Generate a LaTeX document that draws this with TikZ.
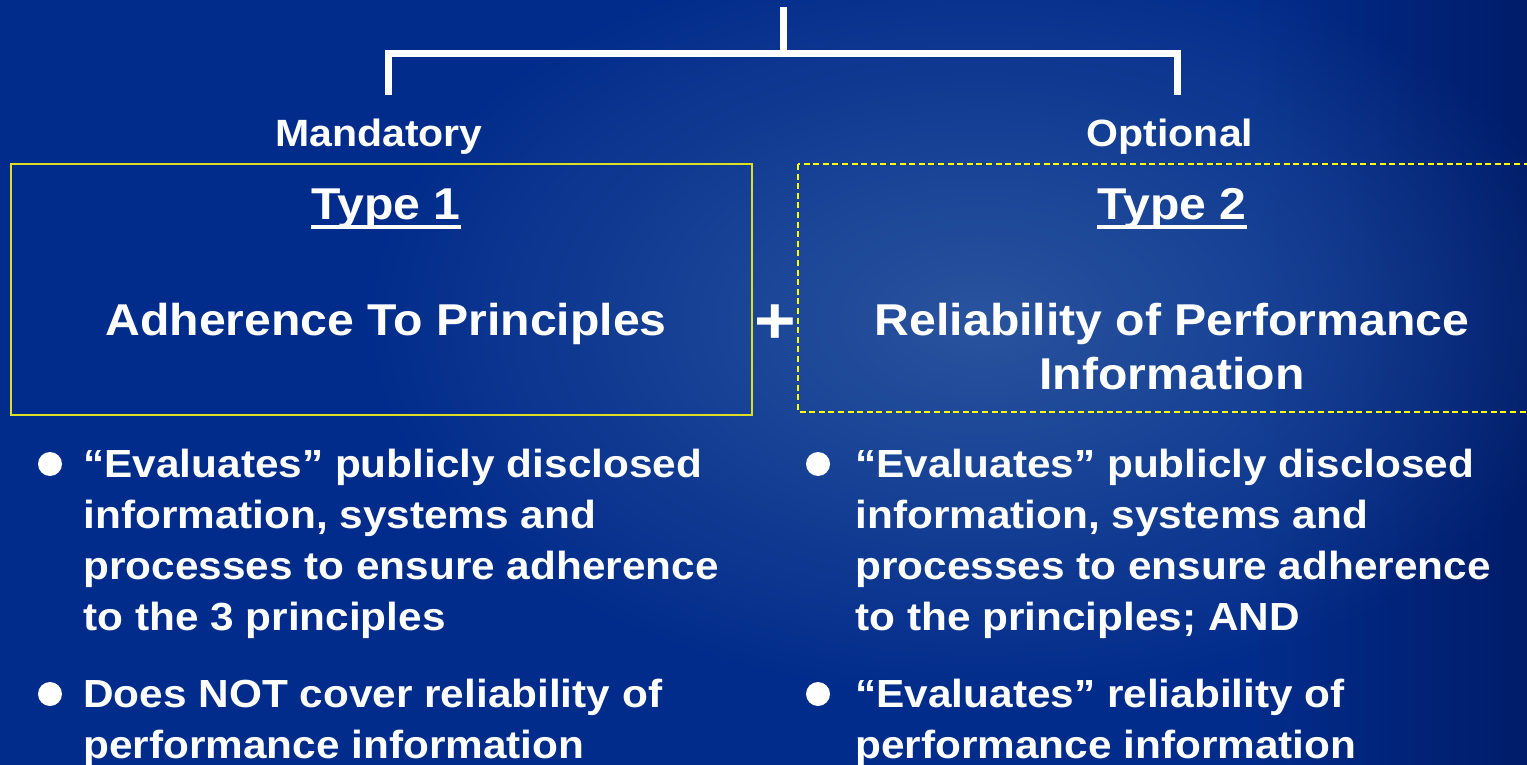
\documentclass[tikz,border=0pt]{standalone}
\usepackage{fontspec}
\setmainfont[FakeStretch=1.08]{Liberation Sans}
\usepackage{tikz}
\usetikzlibrary{arrows.meta}
\usetikzlibrary{calc,positioning}
\usetikzlibrary{fadings}

\definecolor{slide}{HTML}{022C8B}
\definecolor{glow}{HTML}{2A549E}
\definecolor{deep}{HTML}{001C6A}
\definecolor{solidyel}{HTML}{DEDE22}
\definecolor{dashyel}{HTML}{FFFF00}

\tikzfading[name=glowfade, inner color=transparent!0, outer color=transparent!100]

\begin{document}
\begin{tikzpicture}[>=Stealth, x=0.5pt, y=-0.5pt,
    bracket/.style={white, line width=3.5pt, line join=miter},
    lbl/.style={font=\fontsize{19}{23}\selectfont\bfseries, text=white, inner sep=0, anchor=base},
    ttl/.style={font=\fontsize{22.3}{27}\selectfont\bfseries, text=white, inner sep=0},
    item/.style={font=\fontsize{19.6}{25.5}\selectfont\bfseries, text=white, inner sep=0, anchor=north west, align=left},
    dot/.style={circle, fill=white, minimum size=12pt, inner sep=0},
    uline/.style={white, line width=2pt}]

    \useasboundingbox (0,0) rectangle (1527,765);
    \clip (0,0) rectangle (1527,765);

    % background
    \fill[slide] (0,0) rectangle (1527,765);
    \shade[left color=slide, right color=deep] (1250,0) rectangle (1527,765);
    \fill[glow, path fading=glowfade] (980,320) ellipse (620 and 380);

    % bracket
    \coordinate (top) at (783,7);
    \coordinate (hub) at (783,54);
    \coordinate (lt) at (388,95);
    \coordinate (rt) at (1177,95);
    \draw[bracket] (top) -- (hub);
    \draw[bracket] (lt) -- (lt |- hub) -- (rt |- hub) -- (rt);

    \node[lbl] (mand) at (379,147) {Mandatory};
    \node[lbl] (opt) at (1170,147) {Optional};

    % boxes
    \draw[solidyel, line width=1pt] (11,164) rectangle (752,415);
    \draw[dashyel, line width=1pt, dash pattern=on 3pt off 1.8pt] (798,164) rectangle (1535,412);

    \node[ttl, anchor=base] (t1) at (386,220) {Type 1};
    \node[ttl, anchor=base] (t2) at (1172,220) {Type 2};
    \draw[uline] ($(t1.base west)+(0,7)$) -- ($(t1.base east)+(0,7)$);
    \draw[uline] ($(t2.base west)+(0,7)$) -- ($(t2.base east)+(0,7)$);

    \node[ttl, anchor=base] (adh) at (386,335) {Adherence To Principles};
    \node[ttl, anchor=north, align=center] (rel) at (1172,303) {Reliability of Performance\\Information};

    \node[ttl, font=\fontsize{33}{36}\selectfont\bfseries, anchor=base] (plus) at (775,343) {+};

    % bullets
    \node[dot] (d1) at (50,464) {};
    \node[item] (p1) at (83,449) {“Evaluates” publicly disclosed\\information, systems and\\processes to ensure adherence\\to the 3 principles};
    \node[dot] (d2) at (50,694) {};
    \node[item] (p2) at (83,679) {Does NOT cover reliability of\\performance information};

    \node[dot] (d3) at (818,464) {};
    \node[item] (q1) at (855,449) {“Evaluates” publicly disclosed\\information, systems and\\processes to ensure adherence\\to the principles; AND};
    \node[dot] (d4) at (818,694) {};
    \node[item] (q2) at (855,679) {“Evaluates” reliability of\\performance information};

\end{tikzpicture}
\end{document}
